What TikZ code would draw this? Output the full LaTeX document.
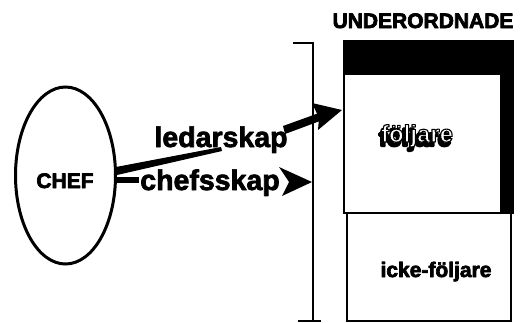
\documentclass[tikz,border=0pt]{standalone}
\usepackage{fontspec}
\setmainfont{Liberation Sans}
\usetikzlibrary{shapes.geometric}
\newcommand{\outlinetxt}[2]{\special{pdf:literal direct 0 0 0 RG #1 w 1 j 2 Tr}#2\special{pdf:literal direct 0 Tr}}
\newcommand{\heavy}[1]{\outlinetxt{0.7}{#1}}
\begin{document}
\begin{tikzpicture}[x=1pt,y=-1pt,
  lbl/.style={inner sep=0pt, anchor=base},
  fA/.style={font=\bfseries\fontsize{21}{21}\selectfont},
  fB/.style={font=\bfseries\fontsize{28.5}{28.5}\selectfont},
  fC/.style={font=\bfseries\fontsize{24}{24}\selectfont},
  ink/.style={fill=black, draw=none},
  boxline/.style={draw=black, line width=2pt}]
\useasboundingbox (0,0) rectangle (526,322);
\fill[white] (0,0) rectangle (526,322);
% CHEF ellipse
\node[draw, line width=3pt, ellipse, minimum width=100pt, minimum height=177pt, inner sep=0pt] (chef) at (65.5,175.5) {};
\node[lbl, fA] (chefT) at (65,188) {\heavy{CHEF}};
% bracket
\coordinate (bt) at (313,43);
\coordinate (bb) at (313,321);
\draw[line width=2.5pt] (293,43) -- (bt) -- (bb);
\draw[line width=2.5pt] (298,321) -- (321,321);
% subordinate box
\node[boxline, rectangle, inner sep=0pt, minimum width=169pt, minimum height=172pt, anchor=north west] (upper) at (343,40) {};
\fill[ink] (upper.north west) rectangle (512,75);
\fill[ink] (500,40) rectangle (512,212);
\node[boxline, fill=white, rectangle, inner sep=0pt, minimum width=164pt, minimum height=108pt, anchor=north west] (lower) at (346,212) {};
\node[lbl, fA] (under) at (423,28) {\heavy{UNDERORDNADE}};
% följare (outlined, shadowed)
\node[lbl, fC, text=black] (foljS) at (415,146) {\outlinetxt{2.4}{följare}};
\node[lbl, fC, text=white] (folj) at (417,142) {\outlinetxt{1.1}{följare}};
\node[lbl, fA] (icke) at (436,277) {\heavy{icke-följare}};
% ledarskap connector
\fill[ink] (116,167) -- (221,147) -- (222,151) -- (117,175) -- cycle;
\fill[ink] (283,126) -- (319,113) -- (320,121) -- (285,134) -- cycle;
\fill[ink] (312,103) -- (342,110) -- (318,130) -- (319,118) -- cycle;
\node[lbl, fB] (led) at (221,147) {\heavy{ledarskap}};
% chefsskap connector
\fill[ink] (117,177) rectangle (139,183);
\fill[ink] (279,167) -- (312,182) -- (282,196) -- (289,182) -- cycle;
\node[lbl, fB] (chefs) at (210,190) {\heavy{chefsskap}};
\end{tikzpicture}
\end{document}
